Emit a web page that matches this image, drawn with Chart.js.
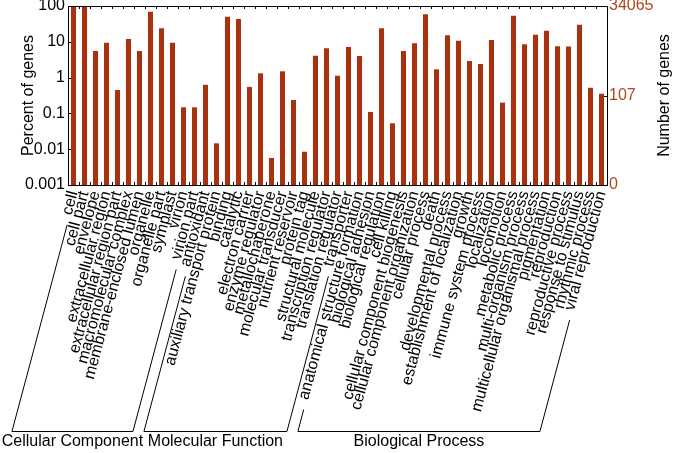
<!DOCTYPE html>
<html>
<head>
<meta charset="utf-8">
<script src="https://cdn.jsdelivr.net/npm/chart.js@4.4.1/dist/chart.umd.min.js"></script>
<style>
html,body{margin:0;padding:0;background:#fff;}
#wrap{width:675px;height:453px;position:relative;}
</style>
</head>
<body>
<div id="wrap"><canvas id="c" width="675" height="453"></canvas></div>
<script>
const categories = [
  'cell','cell part','envelope','extracellular region','extracellular region part','macromolecular complex',
  'membrane-enclosed lumen','organelle','organelle part','symplast','virion','virion part',
  'antioxidant','auxiliary transport protein','binding','catalytic','electron carrier','enzyme regulator',
  'metallochaperone','molecular transducer','nutrient reservoir','protein tag','structural molecule',
  'transcription regulator','translation regulator','transporter',
  'anatomical structure formation','biological adhesion','biological regulation','cell killing',
  'cellular component biogenesis','cellular component organization','cellular process','death',
  'developmental process','establishment of localization','growth','immune system process','localization',
  'locomotion','metabolic process','multi-organism process','multicellular organismal process',
  'pigmentation','reproduction','reproductive process','response to stimulus','rhythmic process',
  'viral reproduction'
];
const percentOfGenes = [
  96, 99, 5.5, 9.4, 0.45, 12, 5.5, 69.5, 23.8, 9.4, 0.148, 0.148,
  0.63, 0.0146, 50, 43, 0.55, 1.32, 0.0057, 1.5, 0.237, 0.0085, 4.1, 6.6, 1.13, 7.2,
  4.0, 0.11, 23.8, 0.053, 5.5, 9.1, 58.6, 1.7, 15.2, 10.7, 2.9, 2.4, 11.2, 0.2, 53.7,
  8.5, 15.8, 20.4, 7.5, 7.4, 30, 0.52, 0.355
];
const groupNames = ['Cellular Component', 'Molecular Function', 'Biological Process'];
const groupSizes = [12, 14, 23];
const leftTickValues = [0.001, 0.01, 0.1, 1, 10, 100];
const leftTickLabels = ['0.001', '0.01', '0.1', '1', '10', '100'];
const totalGenes = 34065;
const rightTickGenes = [0, 107, 34065];
const rightTickLabels = ['0', '107', '34065'];
const yTitleLeft = 'Percent of genes';
const yTitleRight = 'Number of genes';

const FONT = '"Liberation Sans", Arial, Helvetica, sans-serif';
const BAR = '#a8320f';
const RIGHT_COL = '#b3441c';
const ROT = 75;
const AREA = {left: 68, right: 607, top: 6, bottom: 185};
const W = 675, H = 453;

const yMin = leftTickValues[0], yMax = leftTickValues[leftTickValues.length - 1];
const rightTickPos = rightTickGenes.map(g => g === 0 ? yMin : 100 * g / totalGenes);

const decor = {
  id: 'decor',
  afterDraw(chart) {
    const ctx = chart.ctx, a = chart.chartArea, xs = chart.scales.x;
    const ys = chart.scales.y, y2 = chart.scales.y2;
    ctx.save();
    ctx.strokeStyle = '#000';
    ctx.lineWidth = 1;
    // frame
    ctx.strokeRect(Math.round(a.left) + 0.5, Math.round(a.top) + 0.5,
                   Math.round(a.right - a.left), Math.round(a.bottom - a.top));
    // inward ticks between categories
    ctx.beginPath();
    for (let i = 1; i < categories.length; i++) {
      const x = Math.round((xs.getPixelForTick(i - 1) + xs.getPixelForTick(i)) / 2) + 0.5;
      ctx.moveTo(x, a.top); ctx.lineTo(x, a.top + 3);
      ctx.moveTo(x, a.bottom); ctx.lineTo(x, a.bottom - 3);
    }
    leftTickValues.forEach(v => {
      const y = Math.round(ys.getPixelForValue(v)) + 0.5;
      ctx.moveTo(a.left, y); ctx.lineTo(a.left + 3, y);
    });
    rightTickPos.forEach(v => {
      const y = Math.round(y2.getPixelForValue(v)) + 0.5;
      ctx.moveTo(a.right, y); ctx.lineTo(a.right - 3, y);
    });
    ctx.stroke();

    // axis titles
    ctx.fillStyle = '#000';
    ctx.font = '16px ' + FONT;
    ctx.textAlign = 'center';
    ctx.textBaseline = 'middle';
    const midY = (a.top + a.bottom) / 2;
    ctx.save(); ctx.translate(29, midY); ctx.rotate(-Math.PI / 2);
    ctx.fillText(yTitleLeft, 0, 0); ctx.restore();
    ctx.save(); ctx.translate(665, midY); ctx.rotate(-Math.PI / 2);
    ctx.fillText(yTitleRight, 0, 0); ctx.restore();

    // group brackets
    const ang = ROT * Math.PI / 180;
    const dx = -Math.cos(ang), dy = Math.sin(ang);
    const yAnchor = a.bottom + 5;
    const xShift = 3, gap = 12, yBottom = 431;
    const lineFor = (i) => {
      const px = xs.getPixelForTick(i) + xShift;
      const w = ctx.measureText(categories[i]).width + gap;
      const sx = px + dx * w, sy = yAnchor + dy * w;
      const bx = sx + dx * (yBottom - sy) / dy;
      return {sx, sy, bx};
    };
    let start = 0;
    groupSizes.forEach((n, gi) => {
      const L = lineFor(start), R = lineFor(start + n - 1);
      start += n;
      ctx.beginPath();
      ctx.moveTo(L.sx, L.sy);
      ctx.lineTo(L.bx, yBottom + 0.5);
      ctx.lineTo(R.bx, yBottom + 0.5);
      ctx.lineTo(R.sx, R.sy);
      ctx.stroke();
      ctx.fillText(groupNames[gi], (L.bx + R.bx) / 2, 442);
    });
    ctx.restore();
  }
};

new Chart(document.getElementById('c'), {
  type: 'bar',
  data: {
    labels: categories,
    datasets: [{
      data: percentOfGenes,
      backgroundColor: BAR,
      borderWidth: 0,
      barPercentage: 0.46,
      categoryPercentage: 1.0,
      yAxisID: 'y'
    }]
  },
  options: {
    responsive: false,
    animation: false,
    devicePixelRatio: 1,
    layout: {padding: {top: AREA.top, left: 0, right: 0, bottom: 0}},
    plugins: {legend: {display: false}, tooltip: {enabled: false}},
    scales: {
      x: {
        type: 'category',
        grid: {display: false, drawTicks: false},
        border: {display: false},
        ticks: {
          autoSkip: false, minRotation: ROT, maxRotation: ROT,
          color: '#000', padding: 4,
          font: {family: FONT, size: 16}
        },
        afterFit(s) { s.height = H - AREA.bottom; s.paddingLeft = 0; s.paddingRight = 0; }
      },
      y: {
        type: 'logarithmic', position: 'left',
        min: yMin, max: yMax,
        grid: {display: false, drawTicks: false},
        border: {display: false},
        ticks: {
          color: '#000', padding: 3,
          font: {family: FONT, size: 16},
          callback: (v) => {
            const i = leftTickValues.findIndex(t => Math.abs(t - v) / t < 1e-6);
            return i >= 0 ? leftTickLabels[i] : '';
          }
        },
        afterBuildTicks(s) { s.ticks = leftTickValues.map(v => ({value: v})); },
        afterFit(s) { s.width = AREA.left; s.paddingTop = 0; s.paddingBottom = 0; }
      },
      y2: {
        type: 'logarithmic', position: 'right',
        min: yMin, max: yMax,
        grid: {display: false, drawTicks: false},
        border: {display: false},
        ticks: {
          color: RIGHT_COL, padding: 2,
          font: {family: FONT, size: 16},
          callback: (v) => {
            const i = rightTickPos.findIndex(t => Math.abs(t - v) / t < 1e-6);
            return i >= 0 ? rightTickLabels[i] : '';
          }
        },
        afterBuildTicks(s) { s.ticks = rightTickPos.map(v => ({value: v})); },
        afterFit(s) { s.width = W - AREA.right; s.paddingTop = 0; s.paddingBottom = 0; }
      }
    }
  },
  plugins: [decor]
});
</script>
</body>
</html>
